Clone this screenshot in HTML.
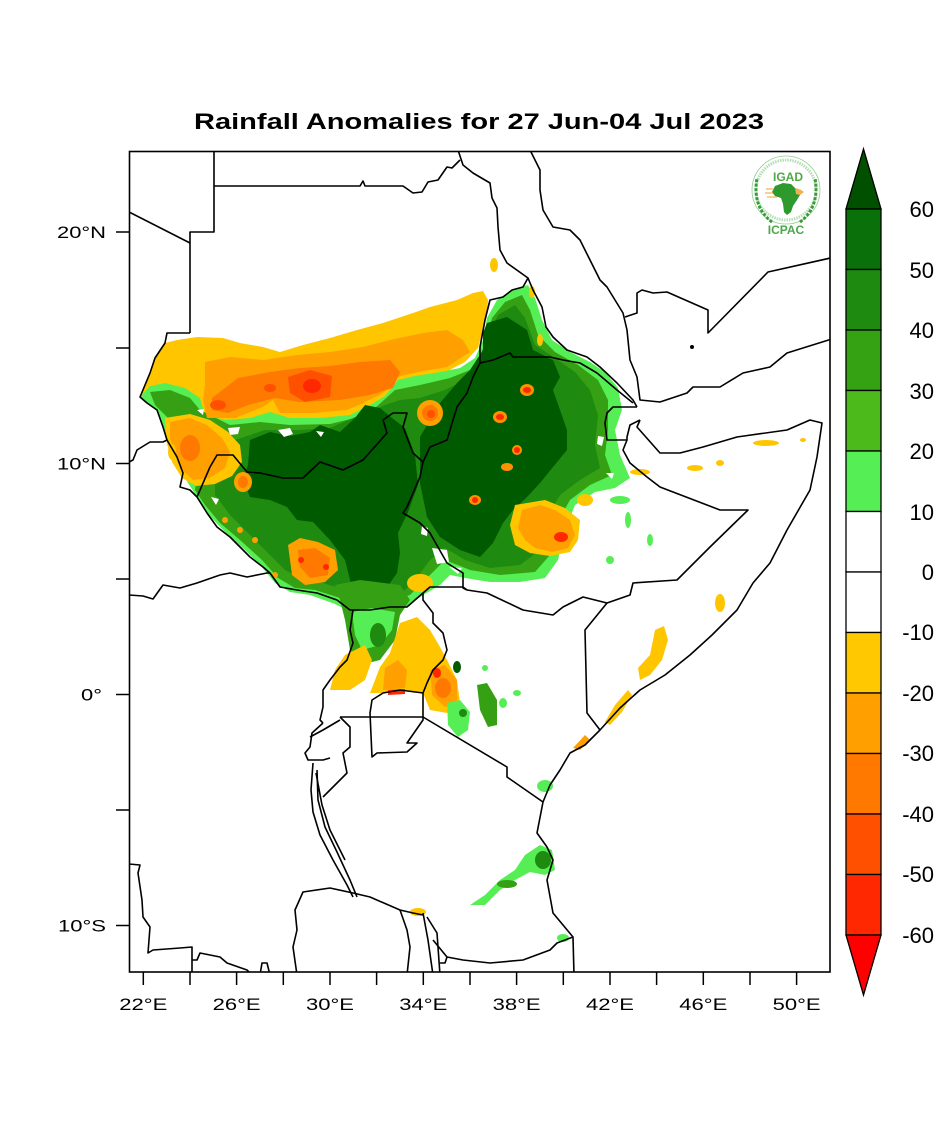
<!DOCTYPE html>
<html><head><meta charset="utf-8"><style>
html,body{margin:0;padding:0;background:#fff;}
svg{display:block;}
text{font-family:"Liberation Sans",Arial,sans-serif;fill:#000;}
</style></head><body>
<svg width="938" height="1125" viewBox="0 0 938 1125" xmlns="http://www.w3.org/2000/svg">
<rect width="938" height="1125" fill="#fff"/>
<text x="479" y="129" text-anchor="middle" font-size="22" font-weight="bold" textLength="570" lengthAdjust="spacingAndGlyphs">Rainfall Anomalies for 27 Jun-04 Jul 2023</text>
<defs><clipPath id="c"><rect x="129" y="151" width="701" height="821"/></clipPath></defs>
<g clip-path="url(#c)">
<!-- yellow band -->
<path fill="#ffc600" d="M165,343 L177,340 L197,337 L223,338 L240,343 L263,347 L280,352 L303,345 L330,338 L357,330 L383,323 L413,313 L430,307 L457,300 L473,293 L483,291 L488,300 L487,315 L483,330 L478,348 L465,362 L440,375 L420,392 L400,405 L380,415 L300,425 L250,430 L205,440 L180,440 L163,425 L157,410 L147,403 L140,397 L145,385 L150,373 L155,358 Z"/>
<!-- greens -->
<path fill="#55ef55" d="M140,397 L150,386 L165,383 L185,388 L200,398 L205,415 L225,420 L250,418 L270,412 L290,418 L320,418 L350,415 L370,405 L385,396 L398,380 L415,376 L440,372 L460,368 L475,358 L483,340 L487,318 L497,300 L512,290 L528,285 L535,298 L542,320 L552,340 L570,352 L590,362 L605,372 L618,388 L622,410 L615,430 L620,455 L630,478 L615,488 L595,492 L575,505 L565,530 L558,560 L545,578 L520,582 L490,582 L465,578 L450,575 L440,585 L420,597 L405,608 L380,612 L355,614 L335,604 L310,595 L290,592 L275,583 L262,567 L245,550 L225,532 L207,513 L197,497 L183,475 L177,457 L167,440 L163,425 L157,410 L147,403 Z"/>
<path fill="#36a014" d="M150,392 L170,390 L190,398 L200,410 L230,425 L260,422 L290,425 L330,424 L355,418 L375,408 L395,390 L420,385 L450,378 L475,368 L485,345 L492,318 L505,302 L522,295 L530,310 L538,335 L555,352 L578,365 L598,380 L608,400 L608,430 L605,455 L612,475 L590,485 L570,500 L556,525 L550,555 L535,572 L500,575 L470,570 L445,560 L430,575 L410,595 L385,603 L360,605 L340,598 L315,590 L295,588 L278,578 L262,560 L240,540 L220,523 L205,505 L195,490 L198,470 L215,455 L200,440 L180,430 L168,418 L155,405 Z"/>
<path fill="#1e8a10" d="M235,440 L265,430 L300,430 L330,428 L360,415 L385,405 L400,400 L420,398 L445,390 L465,380 L478,362 L488,335 L498,315 L515,305 L525,318 L535,345 L555,358 L575,372 L590,390 L598,415 L595,445 L600,468 L580,480 L560,495 L545,520 L540,550 L520,565 L490,568 L465,560 L445,548 L430,560 L415,580 L400,595 L380,600 L360,598 L345,590 L320,582 L300,578 L285,570 L270,555 L250,535 L230,515 L215,495 L215,475 L225,455 Z"/>
<path fill="#005a00" d="M250,440 L270,432 L290,436 L310,432 L320,425 L340,432 L355,418 L365,405 L380,408 L392,418 L405,428 L415,455 L418,485 L408,512 L398,533 L400,553 L397,573 L383,593 L370,608 L357,608 L350,580 L345,560 L330,540 L313,522 L297,520 L287,507 L270,500 L250,497 L243,480 L248,465 Z"/>
<path fill="#005a00" d="M483,333 L487,323 L507,317 L527,330 L533,350 L553,360 L560,377 L553,390 L560,410 L567,430 L567,450 L553,467 L540,483 L527,497 L513,510 L503,523 L493,543 L480,557 L460,550 L440,537 L427,517 L420,483 L420,437 L440,403 L457,383 L470,370 L483,350 Z"/>
<!-- white speckles (irregular) -->
<g fill="#fff">
<path d="M278,430 L290,428 L293,434 L284,437 Z"/><path d="M316,431 L324,432 L321,437 Z"/><path d="M228,428 L240,427 L238,434 L230,435 Z"/>
<path d="M432,548 L447,550 L449,562 L437,564 Z"/><path d="M422,526 L428,528 L427,536 L421,534 Z"/><path d="M449,567 L462,568 L458,574 Z"/>
<path d="M211,497 L219,499 L216,505 Z"/><path d="M197,410 L204,409 L203,415 Z"/>
<path d="M598,436 L604,437 L602,446 L597,444 Z"/><path d="M606,473 L614,473 L612,479 Z"/>
</g>
<!-- Darfur orange -->
<path fill="#ffc600" d="M165,418 L190,414 L210,420 L228,432 L240,445 L242,462 L232,476 L215,484 L196,486 L182,478 L172,462 L166,440 Z"/>
<path fill="#ffa000" d="M170,422 L190,418 L207,425 L222,438 L230,452 L225,468 L210,478 L193,480 L182,470 L175,455 L170,438 Z"/>
<ellipse cx="190" cy="448" rx="10" ry="13" fill="#ff7800"/>
<ellipse cx="172" cy="452" rx="4" ry="8" fill="#ffc600"/>
<!-- orange band -->
<path fill="#ffa000" d="M205,362 L230,357 L263,360 L297,355 L330,352 L363,347 L390,340 L423,333 L447,330 L463,340 L470,352 L447,367 L413,373 L397,377 L383,393 L363,403 L347,410 L313,413 L280,413 L273,400 L263,407 L235,418 L207,418 L203,400 L205,385 Z"/>
<path fill="#ff7800" d="M212,398 L238,378 L270,372 L300,368 L330,366 L360,362 L390,360 L400,372 L393,388 L370,395 L340,400 L300,402 L275,398 L248,405 L228,413 L212,410 Z"/>
<path fill="#ff5000" d="M288,377 L310,370 L332,376 L330,397 L305,402 L290,393 Z"/>
<ellipse cx="312" cy="386" rx="9" ry="7" fill="#ff2800"/>
<ellipse cx="218" cy="405" rx="8" ry="5" fill="#ff5000"/>
<ellipse cx="270" cy="388" rx="6" ry="4" fill="#ff5000"/>
<ellipse cx="430" cy="413" rx="13" ry="13" fill="#ffa000"/>
<ellipse cx="430" cy="413" rx="8" ry="8" fill="#ff7800"/>
<ellipse cx="431" cy="414" rx="4" ry="4" fill="#ff5000"/>
<ellipse cx="494" cy="265" rx="4" ry="7" fill="#ffc600"/>
<ellipse cx="532" cy="292" rx="3" ry="6" fill="#ffc600"/>
<ellipse cx="540" cy="340" rx="3" ry="6" fill="#ffc600"/>
<!-- South Sudan oranges -->
<path fill="#ffa000" d="M288,545 L300,538 L318,542 L335,550 L338,570 L325,582 L305,585 L292,575 Z"/>
<path fill="#ff7800" d="M298,550 L315,548 L330,558 L328,575 L310,578 L300,567 Z"/>
<circle cx="301" cy="560" r="3" fill="#ff2800"/><circle cx="326" cy="567" r="3" fill="#ff2800"/>
<ellipse cx="243" cy="482" rx="9" ry="10" fill="#ffa000"/>
<ellipse cx="243" cy="482" rx="5" ry="6" fill="#ff7800"/>
<g fill="#ffa000"><circle cx="225" cy="520" r="3"/><circle cx="240" cy="530" r="3"/><circle cx="255" cy="540" r="3"/><circle cx="275" cy="575" r="3"/></g>
<ellipse cx="420" cy="583" rx="13" ry="9" fill="#ffc600"/>
<!-- Ethiopia oranges -->
<path fill="#ffc600" d="M515,505 L545,500 L565,508 L580,520 L578,540 L570,552 L550,556 L530,553 L515,545 L510,525 Z"/>
<path fill="#ffa000" d="M522,510 L540,505 L555,510 L570,520 L575,535 L568,548 L552,552 L535,548 L525,540 L518,528 Z"/>
<ellipse cx="561" cy="537" rx="7" ry="5" fill="#ff2800"/>
<ellipse cx="585" cy="500" rx="8" ry="6" fill="#ffc600"/>
<g fill="#ff9000"><ellipse cx="527" cy="390" rx="7" ry="6"/><ellipse cx="500" cy="417" rx="7" ry="6"/><ellipse cx="517" cy="450" rx="5" ry="5"/><ellipse cx="507" cy="467" rx="6" ry="4"/><ellipse cx="475" cy="500" rx="6" ry="5"/></g>
<g fill="#ff2800"><ellipse cx="527" cy="390" rx="4" ry="3"/><ellipse cx="500" cy="417" rx="4" ry="3"/><ellipse cx="517" cy="450" rx="3" ry="3"/><ellipse cx="475" cy="500" rx="3" ry="3"/></g>
<g fill="#ffc600"><ellipse cx="640" cy="472" rx="10" ry="3"/><ellipse cx="695" cy="468" rx="8" ry="3"/><ellipse cx="720" cy="463" rx="4" ry="3"/><ellipse cx="766" cy="443" rx="13" ry="3"/><ellipse cx="803" cy="440" rx="3" ry="2"/><ellipse cx="720" cy="603" rx="5" ry="9"/></g>
<g fill="#55ef55"><ellipse cx="620" cy="500" rx="10" ry="4"/><ellipse cx="628" cy="520" rx="3" ry="8"/><ellipse cx="650" cy="540" rx="3" ry="6"/><ellipse cx="610" cy="560" rx="4" ry="4"/></g>
<!-- Somalia / Kenya coast oranges -->
<path fill="#ffc600" d="M655,630 L664,626 L668,640 L662,660 L650,675 L640,680 L638,668 L650,655 Z"/>
<path fill="#ffc600" d="M628,690 L632,695 L622,712 L610,725 L605,722 L615,705 Z"/>
<path fill="#ffa000" d="M585,735 L590,740 L580,750 L573,748 Z"/>
<!-- Uganda -->
<path fill="#36a014" d="M335,585 L360,580 L400,585 L410,600 L400,615 L395,640 L380,660 L360,665 L350,650 L345,620 L340,600 Z"/>
<path fill="#55ef55" d="M352,612 L372,608 L395,612 L392,630 L380,645 L362,650 L355,635 Z"/>
<ellipse cx="378" cy="635" rx="8" ry="12" fill="#1e8a10"/>
<path fill="#ffc600" d="M330,690 L335,670 L345,655 L365,645 L372,660 L365,680 L350,690 Z"/>
<path fill="#ffc600" d="M370,693 L380,667 L390,653 L400,623 L417,617 L430,630 L440,647 L447,660 L457,680 L460,703 L447,713 L430,710 L423,693 L400,690 L383,693 Z"/>
<path fill="#ffa000" d="M383,690 L385,668 L398,660 L407,670 L405,688 Z"/>
<path fill="#ffa000" d="M430,670 L445,665 L457,680 L457,703 L445,707 L432,695 Z"/>
<ellipse cx="443" cy="688" rx="8" ry="10" fill="#ff7800"/>
<ellipse cx="437" cy="673" rx="4" ry="5" fill="#ff2800"/>
<path fill="#ff2800" d="M388,690 L405,689 L405,694 L388,695 Z"/>
<!-- Kenya greens -->
<path fill="#55ef55" d="M447,703 L460,700 L470,712 L468,730 L458,737 L448,725 Z"/>
<circle cx="463" cy="713" r="4" fill="#1e8a10"/>
<ellipse cx="457" cy="667" rx="4" ry="6" fill="#005a00"/>
<path fill="#36a014" d="M477,685 L487,683 L497,700 L497,725 L488,727 L480,710 Z"/>
<ellipse cx="503" cy="703" rx="4" ry="5" fill="#55ef55"/>
<ellipse cx="517" cy="693" rx="4" ry="3" fill="#55ef55"/>
<ellipse cx="485" cy="668" rx="3" ry="3" fill="#55ef55"/>
<!-- Tanzania -->
<path fill="#55ef55" d="M470,905 L485,895 L500,880 L515,870 L525,855 L540,845 L552,850 L555,870 L545,875 L530,872 L515,880 L500,890 L485,905 Z"/>
<ellipse cx="507" cy="884" rx="10" ry="4" fill="#36a014"/>
<ellipse cx="543" cy="860" rx="8" ry="9" fill="#1e8a10"/>
<ellipse cx="545" cy="786" rx="8" ry="6" fill="#55ef55"/>
<ellipse cx="563" cy="938" rx="6" ry="4" fill="#55ef55"/>
<ellipse cx="418" cy="912" rx="8" ry="4" fill="#ffc600"/>
<!-- borders -->
<g fill="none" stroke="#000" stroke-width="1.6" stroke-linejoin="round">
<path d="M214,152 V232 H190 V333"/>
<path d="M129,212 L190,243"/>
<path d="M190,333 L167,333 L165,343 L155,358 L150,373 L145,385 L140,397 L147,403 L157,410 L163,427 L167,440 L177,457 L183,473 L180,487 L190,490 L197,497"/>
<path d="M129,462 L133,460 L137,450 L150,442 L163,442 L167,440"/>
<path d="M214,186 L360,186 L363,181 L365,186 L403,186 L413,193 L422,192 L428,182 L438,180 L447,167 L452,168 L460,160"/>
<path d="M458,150 L463,165 L473,173 L490,183 L492,198 L497,208 L498,227 L500,250 L507,263 L528,278 L533,290 L542,307 L546,327 L553,337 L567,350 L587,357 L600,367 L617,383 L633,400 L637,407"/>
<path d="M528,278 L523,287 L512,290 L503,297 L490,300 L485,320 L480,347 L480,363"/>
<path d="M480,363 L493,360 L510,353 L513,357 L530,357 L550,357 L563,360 L580,363 L597,373 L617,390 L633,403"/>
<path d="M480,363 L473,377 L467,393 L457,407 L453,420 L447,440 L430,447 L423,462"/>
<path d="M197,497 L210,467 L217,455 L233,455 L247,472 L260,473 L283,478 L303,478 L320,462 L343,470 L363,460 L387,433 L383,420 L393,413 L407,413 L403,427 L413,453 L423,462"/>
<path d="M423,462 L420,477 L407,507 L403,513 L420,523 L430,533 L447,563 L463,573 L463,588 L467,590"/>
<path d="M197,497 L207,513 L217,527 L230,537 L240,547 L250,557 L263,567 L270,573 L280,587 L297,590 L317,593 L337,600 L350,610 L353,610"/>
<path d="M129,595 L143,596 L153,599 L163,585 L180,588 L197,583 L220,575 L230,573 L247,577 L267,573 L270,573"/>
<path d="M353,610 L370,610 L390,607 L407,607 L423,593 L430,587 L437,587 L463,587 L467,590"/>
<path d="M353,610 L350,630 L353,643 L347,660 L340,667 L330,680 L323,690 L323,707 L320,720 L323,723"/>
<path d="M423,593 L423,600 L433,613 L433,623 L443,633 L447,650 L443,660 L433,670 L427,683 L423,693"/>
<path d="M423,693 L400,690 L383,693 L372,700 L370,713 L372,757 L377,753 L407,752 L417,743 L407,743 L423,720 Z"/>
<path d="M340,717 L423,717 L507,767 L507,777 L543,802"/>
<path d="M467,590 L487,593 L523,610 L553,615 L563,607 L583,597 L607,603 L630,595 L633,583 L677,580 L710,547 L748,510 L720,510 L660,487 L647,477 L630,463 L623,450 L627,440"/>
<path d="M607,603 L585,630 L587,713 L600,730"/>
<path d="M637,407 L613,407 L607,413 L605,423 L607,440 L627,440 L627,437 L630,425 L640,420"/>
<path d="M640,420 L637,427 L660,453 L680,453 L703,447 L737,437 L787,430 L810,420 L822,423 L817,457 L810,490 L787,530 L770,563 L753,583 L737,610 L712,635 L690,655 L665,675 L640,690 L620,708 L600,730 L585,745 L570,753 L560,770 L550,785 L543,802 L537,833 L547,847 L553,860 L547,880 L553,913 L573,937 L574,975"/>
<path d="M573,937 L557,943 L550,950 L523,960 L490,963 L463,960 L447,957 L433,940"/>
<path d="M400,910 L407,930 L410,947 L407,975"/>
<path d="M423,913 L428,940 L433,975"/>
<path d="M427,917 L437,933 L440,975"/>
<path d="M440,963 L445,963 L447,957"/>
<path d="M353,893 L370,897 L400,910 L413,913 L423,915"/>
<path d="M353,893 L330,888 L303,892 L295,910 L297,930 L293,947 L297,975"/>
<path d="M129,864 L140,865 L138,873 L142,900 L143,917 L150,927 L148,953 L153,950 L180,948 L192,947 L192,975"/>
<path d="M192,960 L197,960 L200,953 L220,957 L227,963 L247,970 L252,975"/>
<path d="M260,975 L262,963 L267,963 L270,975"/>
<path d="M340,717 L350,727 L350,747 L343,753 L347,773 L337,783 L323,797"/>
<path d="M310,737 L323,730 L340,720"/>
<path d="M323,723 L312,733 L310,747 L305,753 L308,760 L323,760 L330,758"/>
<path d="M313,763 L311,790 L313,812 L320,835 L333,860 L347,885 L353,897"/>
<path d="M317,770 L318,800 L325,827 L337,852 L350,880 L357,897"/>
<path d="M316,773 L322,805 L330,830 L345,860"/>
<path d="M530,150 L540,170 L540,190 L543,210 L553,227 L570,230 L580,240 L590,260 L600,280 L607,287 L623,313 L627,330 L630,360 L637,377 L640,400 L660,402 L687,393 L693,387 L720,387 L743,373 L770,367 L787,353 L835,338"/>
<path d="M625,317 L637,313 L637,293 L642,290 L653,293 L667,292 L708,310 L708,333 L768,272 L835,257"/>
<circle cx="692" cy="347" r="1.2" fill="#000"/>
</g>
</g>
<!-- frame -->
<rect x="129.5" y="151.5" width="700.5" height="820.5" fill="none" stroke="#000" stroke-width="1.6"/>
<!-- ticks -->
<g stroke="#000" stroke-width="1.5">
<line x1="143.3" y1="972" x2="143.3" y2="985"/><line x1="190" y1="972" x2="190" y2="985"/><line x1="236.6" y1="972" x2="236.6" y2="985"/><line x1="283.3" y1="972" x2="283.3" y2="985"/><line x1="330" y1="972" x2="330" y2="985"/><line x1="376.6" y1="972" x2="376.6" y2="985"/><line x1="423.3" y1="972" x2="423.3" y2="985"/><line x1="470" y1="972" x2="470" y2="985"/><line x1="516.6" y1="972" x2="516.6" y2="985"/><line x1="563.3" y1="972" x2="563.3" y2="985"/><line x1="610" y1="972" x2="610" y2="985"/><line x1="656.6" y1="972" x2="656.6" y2="985"/><line x1="703.3" y1="972" x2="703.3" y2="985"/><line x1="750" y1="972" x2="750" y2="985"/><line x1="796.6" y1="972" x2="796.6" y2="985"/>
<line x1="116" y1="232" x2="129" y2="232"/><line x1="116" y1="348" x2="129" y2="348"/><line x1="116" y1="463.5" x2="129" y2="463.5"/><line x1="116" y1="579" x2="129" y2="579"/><line x1="116" y1="694.5" x2="129" y2="694.5"/><line x1="116" y1="810" x2="129" y2="810"/><line x1="116" y1="925.5" x2="129" y2="925.5"/>
</g>
<g font-size="17" text-anchor="middle">
<text x="143.3" y="1010" textLength="48" lengthAdjust="spacingAndGlyphs">22°E</text>
<text x="236.6" y="1010" textLength="48" lengthAdjust="spacingAndGlyphs">26°E</text>
<text x="330" y="1010" textLength="48" lengthAdjust="spacingAndGlyphs">30°E</text>
<text x="423.3" y="1010" textLength="48" lengthAdjust="spacingAndGlyphs">34°E</text>
<text x="516.6" y="1010" textLength="48" lengthAdjust="spacingAndGlyphs">38°E</text>
<text x="610" y="1010" textLength="48" lengthAdjust="spacingAndGlyphs">42°E</text>
<text x="703.3" y="1010" textLength="48" lengthAdjust="spacingAndGlyphs">46°E</text>
<text x="796.6" y="1010" textLength="48" lengthAdjust="spacingAndGlyphs">50°E</text>
</g>
<g font-size="17" text-anchor="end">
<text x="106" y="238" textLength="49" lengthAdjust="spacingAndGlyphs">20°N</text>
<text x="106" y="469.5" textLength="49" lengthAdjust="spacingAndGlyphs">10°N</text>
<text x="102" y="700.5" textLength="21" lengthAdjust="spacingAndGlyphs">0°</text>
<text x="106" y="931.5" textLength="48" lengthAdjust="spacingAndGlyphs">10°S</text>
</g>
<!-- colorbar -->
<g stroke="#000" stroke-width="1.3">
<polygon points="846,209 881,209 863.5,149" fill="#005000"/>
<rect x="846" y="209" width="35" height="60.5" fill="#0a700a"/>
<rect x="846" y="269.5" width="35" height="60.5" fill="#1e8a10"/>
<rect x="846" y="330" width="35" height="60.5" fill="#35a214"/>
<rect x="846" y="390.5" width="35" height="60.5" fill="#4cba1a"/>
<rect x="846" y="451" width="35" height="60.5" fill="#55ef55"/>
<rect x="846" y="511.5" width="35" height="60.5" fill="#fff"/>
<rect x="846" y="572" width="35" height="60.5" fill="#fff"/>
<rect x="846" y="632.5" width="35" height="60.5" fill="#ffc800"/>
<rect x="846" y="693" width="35" height="60.5" fill="#ffa000"/>
<rect x="846" y="753.5" width="35" height="60.5" fill="#ff7800"/>
<rect x="846" y="814" width="35" height="60.5" fill="#ff5000"/>
<rect x="846" y="874.5" width="35" height="60.5" fill="#ff2800"/>
<polygon points="846,935 881,935 863.5,995" fill="#ff0000"/>
</g>
<g font-size="22" text-anchor="end">
<text x="934" y="217">60</text>
<text x="934" y="278">50</text>
<text x="934" y="338">40</text>
<text x="934" y="399">30</text>
<text x="934" y="459">20</text>
<text x="934" y="520">10</text>
<text x="934" y="580">0</text>
<text x="934" y="640">-10</text>
<text x="934" y="701">-20</text>
<text x="934" y="761">-30</text>
<text x="934" y="822">-40</text>
<text x="934" y="882">-50</text>
<text x="934" y="943">-60</text>
</g>
<!-- logo -->
<g>
<circle cx="786" cy="190" r="34" fill="#fff" stroke="#8fcf8f" stroke-width="0.8"/>
<circle cx="786" cy="190" r="30" fill="none" stroke="#b5deb5" stroke-width="3" stroke-dasharray="1.5 1"/>
<text x="788" y="181" text-anchor="middle" font-size="12" font-weight="bold" style="fill:#4faa45">IGAD</text>
<path d="M775,186 L783,183 L791,184 L795,188 L801,190 L800,195 L797,200 L793,206 L791,212 L787,215 L784,212 L783,204 L781,198 L775,196 L772,192 Z" fill="#2e9a2e"/>
<path d="M795,188 L801,190 L804,192 L800,195 L796,194 Z" fill="#f0b050"/>
<g stroke="#f0b050" stroke-width="1.2"><line x1="766" y1="189" x2="774" y2="189"/><line x1="765" y1="193" x2="773" y2="193"/><line x1="767" y1="197" x2="777" y2="197"/></g>
<path d="M772,222 Q752,207 757,178" fill="none" stroke="#3b9b3b" stroke-width="3" stroke-dasharray="3 1.5"/>
<path d="M800,222 Q820,207 815,178" fill="none" stroke="#3b9b3b" stroke-width="3" stroke-dasharray="3 1.5"/>
<text x="786" y="234" text-anchor="middle" font-size="12" font-weight="bold" style="fill:#4aa84a">ICPAC</text>
</g>
</svg>
</body></html>
